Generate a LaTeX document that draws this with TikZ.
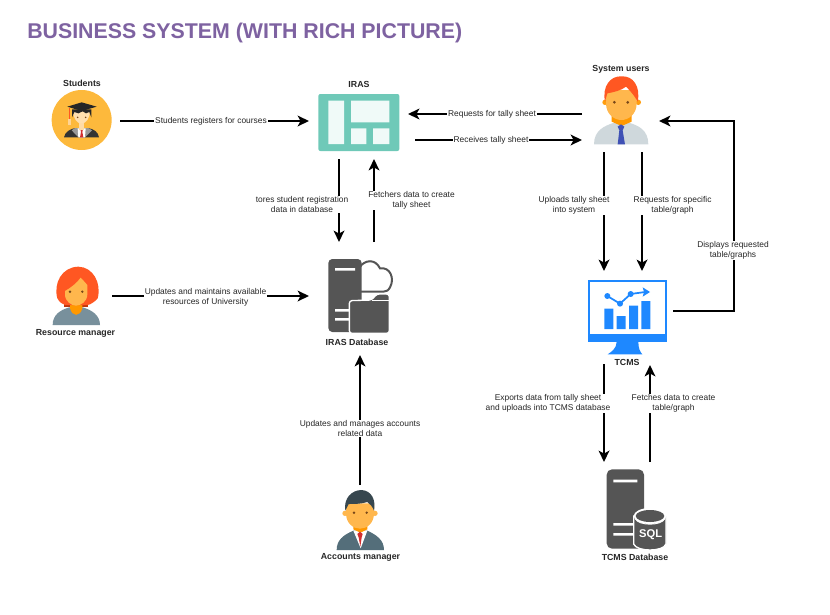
\documentclass[tikz,border=0pt]{standalone}
\usepackage{fontspec}
\setmainfont{Liberation Sans}
\usetikzlibrary{arrows.meta,calc}
\definecolor{titlec}{HTML}{7E62A1}
\definecolor{gold}{HTML}{FDB93C}
\definecolor{teal}{HTML}{6FC9B8}
\definecolor{tealin}{HTML}{F0FAF8}
\definecolor{skin}{HTML}{FFB74D}
\definecolor{neck}{HTML}{FF9800}
\definecolor{hairred}{HTML}{FF5722}
\definecolor{hairdk}{HTML}{BF360C}
\definecolor{shirt}{HTML}{CFD8DC}
\definecolor{tieblue}{HTML}{3F51B5}
\definecolor{slate}{HTML}{78909C}
\definecolor{suit}{HTML}{546E7A}
\definecolor{hairblk}{HTML}{37474F}
\definecolor{eye}{HTML}{784719}
\definecolor{srv}{HTML}{555555}
\definecolor{mon}{HTML}{1E88FF}
\definecolor{tiered}{HTML}{D32F2F}
\tikzset{
  zoomed/.style 2 args={xshift=#1*0.75pt,yshift=-#2*0.75pt,x=0.25pt,y=-0.25pt},
  hit/.style 2 args={minimum width=#1*0.75pt,minimum height=#2*0.75pt,inner sep=0pt,outer sep=0pt},
  conn/.style={line width=1.5pt,black,-{Stealth[length=8.5pt,width=8pt,inset=2.2pt]}},
  lab/.style={font=\fontsize{6.3pt}{7.4pt}\selectfont,fill=white,inner sep=0.6pt,align=center,text=black!85},
  captext/.style={font=\fontsize{6.6pt}{8pt}\selectfont\bfseries,inner sep=0pt,text=black!85},
}
\begin{document}
\begin{tikzpicture}[x=0.75pt,y=-0.75pt]
\useasboundingbox (0,0) rectangle (830,614);
\node[anchor=west,inner sep=0pt,text=titlec,font=\fontsize{16pt}{18pt}\selectfont\bfseries] (title) at (27,32.5) {BUSINESS SYSTEM (WITH RICH PICTURE)};

% connector hit areas
\node[hit={68}{60}] (students) at (86,121) {};
\node[hit={99}{76}] (iras) at (358.5,121) {};
\node[hit={77}{62}] (sysusers) at (620.5,121) {};
\node[hit={62}{60}] (resmgr) at (81,296) {};
\node[hit={102}{113}] (irasdb) at (360,298.5) {};
\node[hit={86}{93}] (tcms) at (630,317.5) {};
\node[hit={80}{60}] (accmgr) at (360,515) {};
\node[hit={74}{88}] (tcmsdb) at (627,506) {};
\coordinate (bend) at (734,121);

% Students icon
\begin{scope}[zoomed={30}{60}]
\fill[gold] (155,180) circle (90);
\fill[black!80] (102,232) .. controls (105,215) and (120,208) .. (135,204) -- (175,204) .. controls (192,208) and (204,215) .. (207,232) -- cycle;
\fill[black!40] (135,204) -- (175,204) -- (186,211) -- (165,232) -- (145,232) -- (125,211) -- cycle;
\fill[white] (143,205) -- (167,205) -- (165,232) -- (145,232) -- cycle;
\fill[tiered] (151,207) -- (159,207) -- (157,216) -- (160,232) -- (150,232) -- (153,216) -- cycle;
\fill[skin!50!white] (147,190) rectangle (163,210);
\fill[skin!45!white] (130,150) .. controls (130,205) and (180,205) .. (180,150) -- cycle;
\fill[black!85] (126,172) -- (126,148) -- (184,148) -- (184,172) -- (178,156) -- (168,160) -- (158,154) -- (145,160) -- (133,156) -- cycle;
\fill[black!85] (112,140) -- (155,127) -- (200,140) -- (155,153) -- cycle;
\draw[hairred,line width=0.8pt] (118,143) -- (118,178);
\fill[skin!60!white] (115,178) rectangle (122,194);
\fill[eye] (143,172) circle (2.5) (167,172) circle (2.5);
\end{scope}

% IRAS icon
\begin{scope}[zoomed={300}{70}]
\fill[teal,rounded corners=1.5pt] (55,72) rectangle (298,243);
\fill[tealin] (85,92) rectangle (132,222) (153,92) rectangle (268,157) (153,175) rectangle (199,222) (219,175) rectangle (268,222);
\end{scope}

% System users icon
\begin{scope}[zoomed={570}{55}]
\fill[shirt] (72,268) .. controls (72,225) and (105,212) .. (130,204) -- (180,204) .. controls (205,212) and (235,225) .. (235,268) -- cycle;
\fill[neck] (125,175) -- (185,175) -- (185,200) -- (155,213) -- (125,200) -- cycle;
\fill[tieblue] (143,215) -- (153,208) -- (163,215) -- (158,226) -- (165,268) -- (143,268) -- (148,226) -- cycle;
\fill[neck!80!skin] (105,142) circle (8) (205,142) circle (8);
\fill[skin] (108,105) -- (200,105) -- (200,145) .. controls (200,178) and (175,195) .. (154,195) .. controls (133,195) and (108,178) .. (108,145) -- cycle;
\fill[hairred] (105,140) .. controls (96,95) and (120,62) .. (155,64) .. controls (190,62) and (212,95) .. (203,140) -- (197,130) .. controls (190,118) and (178,105) .. (168,95) .. controls (155,106) and (130,112) .. (112,115) -- cycle;
\fill[eye] (133,142) circle (4.5) (173,142) circle (4.5);
\end{scope}

% Resource manager icon
\begin{scope}[zoomed={30}{255}]
\fill[hairdk] (103,120) rectangle (174,156);
\fill[slate] (68,210) .. controls (68,180) and (90,165) .. (118,157) -- (158,157) .. controls (185,165) and (210,180) .. (210,210) -- cycle;
\fill[neck] (120,140) -- (157,140) -- (157,160) .. controls (150,186) and (127,186) .. (120,160) -- cycle;
\fill[hairred] (82,130) .. controls (70,85) and (95,36) .. (145,35) .. controls (190,36) and (215,85) .. (203,130) .. controls (195,140) and (180,150) .. (172,150) -- (105,150) .. controls (95,148) and (88,140) .. (82,130) -- cycle;
\fill[skin] (105,108) -- (105,118) .. controls (105,140) and (125,152) .. (138,152) .. controls (152,152) and (172,140) .. (172,118) -- (172,90) .. controls (165,82) and (158,74) .. (152,68) .. controls (140,85) and (120,100) .. (105,108) -- cycle;
\fill[eye] (120,110) circle (4) (157,110) circle (4);
\end{scope}

% IRAS Database icon
\begin{scope}[zoomed={310}{250}]
\draw[srv,line width=1.5pt,fill=white] (150,50) .. controls (165,30) and (195,25) .. (210,55) .. controls (240,50) and (255,85) .. (240,112) .. controls (235,122) and (228,125) .. (220,125) -- (150,125);
\fill[srv,rounded corners=3pt] (55,27) rectangle (155,246);
\fill[white] (75,54) rectangle (135,62) (75,177) rectangle (118,185) (75,204) rectangle (118,212);
\fill[srv,draw=white,line width=1pt,rounded corners=2pt] (118,152) -- (118,250) -- (238,250) -- (238,132) -- (200,132) -- (185,150) -- cycle;
\draw[white,line width=0.8pt] (185,152) -- (238,152);
\end{scope}

% TCMS icon
\begin{scope}[zoomed={575}{270}]
\draw[mon,line width=1.5pt] (41,33) rectangle (273,200);
\fill[mon] (38,192) rectangle (276,215);
\fill[mon] (125,215) -- (190,215) .. controls (190,235) and (195,245) .. (202,253) -- (98,253) .. controls (110,245) and (125,235) .. (125,215) -- cycle;
\fill[mon] (88,116) rectangle (115,177) (125,138) rectangle (152,177) (162,107) rectangle (189,177) (199,93) rectangle (226,177);
\draw[mon,line width=1.3pt] (97,78) -- (135,101) -- (167,72) -- (210,66);
\fill[mon] (97,78) circle (9) (135,101) circle (9) (167,72) circle (9);
\fill[mon] (225,66) -- (203,52) -- (207,66) -- (203,80) -- cycle;
\end{scope}

% TCMS Database icon
\begin{scope}[zoomed={590}{460}]
\fill[srv,rounded corners=4pt] (50,28) rectangle (162,266);
\fill[white] (70,59) rectangle (142,67) (70,189) rectangle (135,197) (70,219) rectangle (135,227);
\fill[srv,draw=white,line width=1pt] (131,168) -- (131,252) .. controls (140,276) and (220,276) .. (228,252) -- (228,168) -- cycle;
\fill[white] (180,168) ellipse (49 and 24);
\fill[srv] (180,168) ellipse (43 and 18);
\draw[white,line width=0.7pt] (136,176) .. controls (145,198) and (215,198) .. (224,176);
\node[inner sep=0pt,text=white,font=\fontsize{8.4pt}{9pt}\selectfont\bfseries] (sqltext) at (182,223) {SQL};
\end{scope}

% Accounts manager icon
\begin{scope}[zoomed={310}{480}]
\fill[suit] (80,210) .. controls (80,180) and (100,165) .. (130,152) -- (172,152) .. controls (200,165) and (222,180) .. (222,210) -- cycle;
\fill[white] (130,152) -- (172,152) -- (152,205) -- cycle;
\fill[neck] (130,130) -- (172,130) -- (172,148) -- (151,158) -- (130,148) -- cycle;
\fill[tiered] (142,162) -- (150,155) -- (158,162) -- (155,172) -- (151,200) -- (146,172) -- cycle;
\fill[skin] (105,100) circle (8) (195,100) circle (8);
\fill[skin] (108,70) -- (192,70) -- (192,100) .. controls (192,130) and (170,146) .. (150,146) .. controls (130,146) and (108,130) .. (108,100) -- cycle;
\fill[hairblk] (106,92) .. controls (100,55) and (125,30) .. (155,30) .. controls (185,32) and (198,60) .. (192,92) .. controls (188,80) and (180,72) .. (172,66) .. controls (155,72) and (130,72) .. (116,72) -- cycle;
\fill[eye] (132,98) circle (4) (170,98) circle (4);
\end{scope}

% captions
\node[captext] (capstudents) at (82,83) {Students};
\node[captext] (capiras) at (359,84.5) {IRAS};
\node[captext] (capusers) at (621,69.5) {System users};
\node[captext] (capres) at (75.5,333.5) {Resource manager};
\node[captext] (capdb) at (357,342.5) {IRAS Database};
\node[captext] (captcms) at (627,362) {TCMS};
\node[captext] (capacc) at (360.5,557.5) {Accounts manager};
\node[captext] (captdb) at (635,557.5) {TCMS Database};

% connectors
\draw[conn] (students.east) -- (iras.west);
\draw[conn] ([yshift=-7*-0.75pt]sysusers.west) -- ([yshift=-7*-0.75pt]iras.east);
\draw[conn] ([shift={(7,19)}]iras.east) -- ([shift={(0,19)}]sysusers.west);
\draw[conn] ([xshift=-19.5*0.75pt]iras.south) -- ([xshift=-21*0.75pt]irasdb.north);
\draw[conn] ([xshift=14*0.75pt]irasdb.north) -- ([xshift=15.5*0.75pt]iras.south);
\draw[conn] (resmgr.east) -- ([shift={(0,-2.5)}]irasdb.west);
\draw[conn] (accmgr.north) -- (irasdb.south);
\draw[conn] ([xshift=-16.5*0.75pt]sysusers.south) -- ([xshift=-26*0.75pt]tcms.north);
\draw[conn] ([xshift=21.5*0.75pt]sysusers.south) -- ([xshift=12*0.75pt]tcms.north);
\draw[conn] ([shift={(0,-6.5)}]tcms.east) -| (bend) -- (sysusers.east);
\draw[conn] ([xshift=-26*0.75pt]tcms.south) -- ([xshift=-23*0.75pt]tcmsdb.north);
\draw[conn] ([xshift=23*0.75pt]tcmsdb.north) -- ([shift={(20,1)}]tcms.south);

% connector labels
\node[lab] (l1) at (211,121) {Students registers for courses};
\node[lab] (l2) at (492,114.5) {Requests for tally sheet};
\node[lab] (l3) at (491,140) {Receives tally sheet};
\node[lab] (l4) at (302,204.5) {tores student registration\\data in database};
\node[lab] (l5) at (411.5,200.5) {Fetchers data to create\\tally sheet};
\node[lab] (l6) at (205.5,297.5) {Updates and maintains available\\resources of University};
\node[lab] (l7) at (360,428.5) {Updates and manages accounts\\related data};
\node[lab] (l8) at (574,205.5) {Uploads tally sheet\\into system};
\node[lab] (l9) at (672.5,205.5) {Requests for specific\\table/graph};
\node[lab] (l10) at (733,250.5) {Displays requested\\table/graphs};
\node[lab] (l11) at (548,403.5) {Exports data from tally sheet\\and uploads into TCMS database};
\node[lab] (l12) at (673.5,403.5) {Fetches data to create\\table/graph};
\end{tikzpicture}
\end{document}
